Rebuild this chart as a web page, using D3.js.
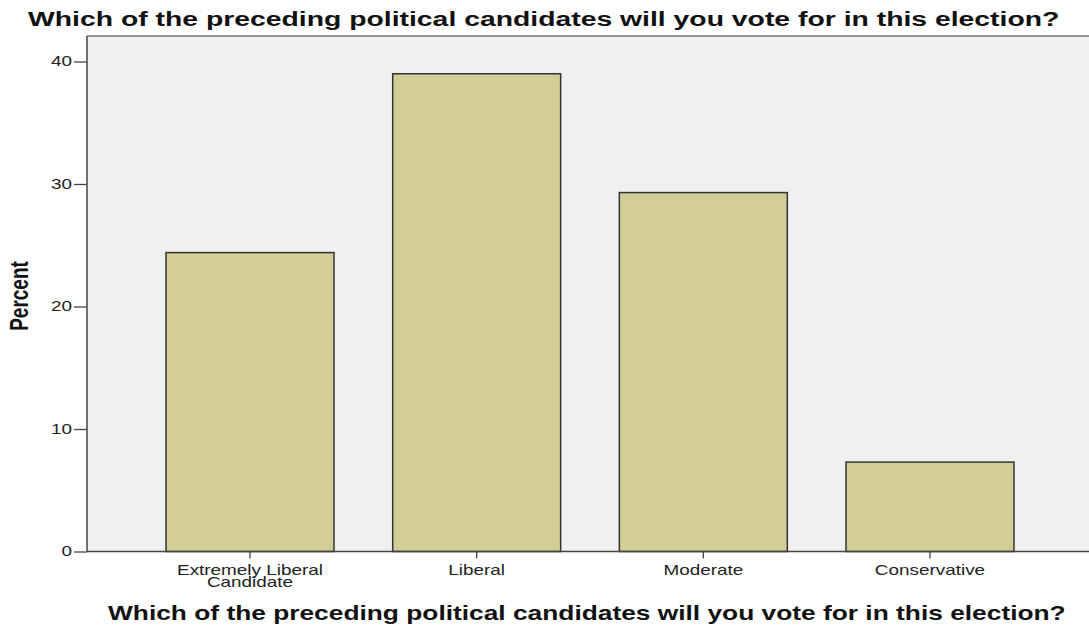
<!DOCTYPE html>
<html>
<head>
<meta charset="utf-8">
<script src="https://cdn.jsdelivr.net/npm/d3@7"></script>
<style>
  html, body { margin: 0; padding: 0; background: #ffffff; }
  svg { display: block; }
</style>
</head>
<body>
<svg id="chart" width="1089" height="627"></svg>
<script>
// ---- data ----
const categories = ["Extremely Liberal Candidate", "Liberal", "Moderate", "Conservative"];
const categoryLines = [["Extremely Liberal", "Candidate"], ["Liberal"], ["Moderate"], ["Conservative"]];
const percents = [24.4, 39.0, 29.3, 7.3];
const yTicks = [0, 10, 20, 30, 40];
const titleText = "Which of the preceding political candidates will you vote for in this election?";
const yTitle = "Percent";

// ---- layout ----
const W = 1089, H = 627;
const plot = { left: 87, top: 36, right: 1089, bottom: 551.5 };
const SX = 1.35; // horizontal stretch of the reference's text
const FONT = "'Liberation Sans', Arial, Helvetica, sans-serif";

const svg = d3.select("#chart");

const y = d3.scaleLinear().domain([0, 40]).range([plot.bottom, 61.5]);
const x = d3.scaleBand()
  .domain(categories)
  .range([136.67, 1043.33])
  .paddingInner(0.259)
  .paddingOuter(0.1295);

// plot background
svg.append("rect")
  .attr("x", plot.left).attr("y", plot.top)
  .attr("width", plot.right - plot.left)
  .attr("height", plot.bottom - plot.top)
  .attr("fill", "#f0f0f0");

// top border
svg.append("line")
  .attr("x1", plot.left).attr("x2", plot.right)
  .attr("y1", plot.top).attr("y2", plot.top)
  .attr("stroke", "#7a7a7a").attr("stroke-width", 1.5);

// bars
svg.append("g").selectAll("rect")
  .data(categories)
  .join("rect")
  .attr("x", d => x(d))
  .attr("y", (d, i) => y(percents[i]))
  .attr("width", x.bandwidth())
  .attr("height", (d, i) => plot.bottom - y(percents[i]))
  .attr("fill", "#d3ce98")
  .attr("stroke", "#333333")
  .attr("stroke-width", 1.5);

// y axis
const yAxis = svg.append("g")
  .attr("transform", `translate(${plot.left},0)`)
  .call(d3.axisLeft(y).tickValues(yTicks).tickSize(13).tickPadding(2).tickFormat(d3.format("d")));
yAxis.select(".domain").attr("stroke", "#444").attr("stroke-width", 1.5)
  .attr("d", `M0,${plot.top}V${plot.bottom}`);
yAxis.selectAll(".tick line").attr("stroke", "#444").attr("stroke-width", 1.3);
yAxis.selectAll(".tick text")
  .attr("font-family", FONT)
  .attr("font-size", 14)
  .attr("fill", "#222")
  .attr("x", -15 / SX)
  .attr("transform", `scale(${SX},1)`);

// x axis
const xAxis = svg.append("g")
  .attr("transform", `translate(0,${plot.bottom})`)
  .call(d3.axisBottom(x).tickSize(7).tickPadding(4).tickFormat(() => ""));
xAxis.select(".domain").attr("stroke", "#444").attr("stroke-width", 1.5)
  .attr("d", `M${plot.left},0H${plot.right}`);
xAxis.selectAll(".tick line").attr("stroke", "#444").attr("stroke-width", 1.3);
xAxis.selectAll(".tick text").each(function(d) {
  const t = d3.select(this)
    .attr("font-family", FONT)
    .attr("font-size", 14)
    .attr("fill", "#222")
    .attr("y", 0).attr("dy", null)
    .attr("transform", `scale(${SX},1)`);
  const lines = categoryLines[categories.indexOf(d)];
  lines.forEach((ln, j) => {
    t.append("tspan").attr("x", 0).attr("y", 24 + j * 11.8).text(ln);
  });
});

// title
svg.append("g")
  .attr("transform", `translate(28,26) scale(${SX},1)`)
  .append("text")
  .attr("font-family", FONT)
  .attr("font-weight", "bold")
  .attr("font-size", 21)
  .attr("fill", "#111")
  .text(titleText);

// x axis title
svg.append("g")
  .attr("transform", `translate(108,620) scale(${SX},1)`)
  .append("text")
  .attr("font-family", FONT)
  .attr("font-weight", "bold")
  .attr("font-size", 19.5)
  .attr("fill", "#111")
  .text(titleText);

// y axis title
svg.append("g")
  .attr("transform", `translate(28,296) scale(${SX},1) rotate(-90)`)
  .append("text")
  .attr("text-anchor", "middle")
  .attr("font-family", FONT)
  .attr("font-weight", "bold")
  .attr("font-size", 19)
  .attr("fill", "#111")
  .text(yTitle);
</script>
</body>
</html>
